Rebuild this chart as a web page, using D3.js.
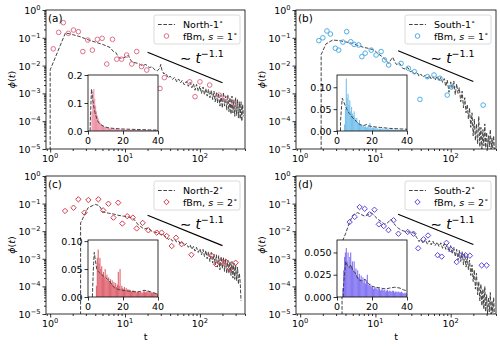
<!DOCTYPE html>
<html><head><meta charset="utf-8">
<script src="https://cdn.jsdelivr.net/npm/d3@7"></script>
<style>body{margin:0;background:#fff}svg{display:block}text{font-family:"DejaVu Sans",sans-serif;fill:#000}</style>
</head><body><svg id="chart" width="500" height="346"></svg>
<script>
// ---------------- DATA ----------------
const xTicks = [1, 10, 100];
const xTickExp = ["0", "1", "2"];
const yTicks = [1, 1e-1, 1e-2, 1e-3, 1e-4, 1e-5];
const yTickExp = ["0", "\u22121", "\u22122", "\u22123", "\u22124", "\u22125"];
const insetXTicks = [0, 20, 40];

// shared t grid for the noisy tail of the empirical curves
const tailT = [36,38,40,43,46,49,52,55,58,62,66,70,74,78,82,86,90,95,100,105,110,115,120,125,130,136,142,148,154,160,166,172,178,185,192,199,206,213,220,228,236,244,252,260,268,276,284,292,300,309,318,327,336,345,354,363,372,381];

// Panel (a) North-1°
const headT_a   = [1.0,1.0,1.6,2.0,2.5,3.2,4.0,5.0,6.3,7.0,7.5,8.2,9.0,10,11,12,13,15,17,19,21,23,25,27,29,30,31,33,34];
const headPhi_a = [1e-6,0.007,0.15,0.13,0.11,0.085,0.07,0.058,0.045,0.032,0.03,0.02,0.018,0.02,0.024,0.015,0.013,0.012,0.01,0.011,0.0085,0.009,0.007,0.0065,0.008,0.011,0.007,0.005,0.0055];
const tailPhi_a = [4.6e-3,3.6e-3,4.2e-3,3.2e-3,3.8e-3,2.6e-3,3.3e-3,2.4e-3,2.9e-3,2.0e-3,2.7e-3,1.8e-3,2.5e-3,1.6e-3,2.2e-3,1.3e-3,2.1e-3,1.2e-3,1.8e-3,1.0e-3,1.7e-3,9e-4,1.5e-3,8e-4,1.4e-3,7e-4,1.3e-3,6e-4,1.2e-3,5e-4,1.1e-3,4.5e-4,1.0e-3,3.5e-4,9e-4,3e-4,1.1e-3,3.5e-4,8e-4,2.5e-4,9e-4,2.2e-4,7e-4,1.8e-4,8e-4,2.0e-4,6e-4,1.5e-4,7e-4,1.6e-4,6e-4,1.3e-4,5e-4,1.2e-4,5e-4,1.0e-4,4e-4,1.5e-4];
const fbmT_a   = [1.1,1.3,1.5,1.75,2.05,2.38,2.73,3.18,3.66,4.27,4.94,5.7,6.8,7.75,9.0,10.5,12.3,14.3,16.6,19.5,29.3,33.5,73,86,100,135,181,216,285];
const fbmPhi_a = [0.04,0.157,0.35,0.145,0.19,0.166,0.032,0.083,0.036,0.088,0.096,0.0114,0.088,0.017,0.017,0.024,0.0114,0.032,0.0092,0.0069,0.0015,0.0037,0.0026,0.00076,0.0026,0.002,0.00087,0.00067,0.00044];

// Panel (b) South-1°
const headT_b   = [1.9,1.9,2.2,2.7,3.2,4.0,5.0,6.0,7.0,8.0,9.0,10,11,12,13,14,15,16,17,18,19,21,23,25,27,29,31,33,34];
const headPhi_b = [1e-6,0.025,0.06,0.083,0.08,0.072,0.062,0.052,0.045,0.042,0.038,0.033,0.026,0.022,0.018,0.015,0.012,0.016,0.02,0.014,0.011,0.012,0.008,0.0075,0.0085,0.006,0.0065,0.005,0.0055];
const tailPhi_b = [5.5e-3,4.2e-3,5.0e-3,3.8e-3,4.6e-3,3.5e-3,4.4e-3,3.3e-3,4.0e-3,3.0e-3,4.2e-3,2.8e-3,3.8e-3,2.5e-3,3.4e-3,1.8e-3,3.0e-3,1.1e-3,2.6e-3,1.5e-3,2.8e-3,9e-4,2.2e-3,1.0e-3,1.6e-3,5e-4,1.2e-3,3e-4,7e-4,2e-4,4e-4,1.2e-4,3e-4,6e-5,2e-4,3e-5,1.2e-4,2e-5,8e-5,1.5e-5,1.5e-4,1.2e-5,6e-5,1.0e-5,5e-5,1.3e-5,8e-5,1.1e-5,4e-5,1.0e-5,3e-5,1.2e-5,5e-5,1.0e-5,2.5e-5,1.1e-5,3e-5,1.0e-5];
const fbmT_b   = [1.77,2.0,2.27,2.52,2.93,3.25,3.7,4.15,4.7,5.2,6.0,6.6,7.3,8.8,10.2,11.9,13.2,15,21.9,27.4,33,39,49,60,72,90,102,270];
const fbmPhi_b = [0.079,0.1,0.176,0.137,0.042,0.036,0.07,0.166,0.072,0.058,0.055,0.021,0.028,0.036,0.024,0.032,0.016,0.0105,0.012,0.008,0.006,0.00061,0.004,0.0046,0.0035,0.00087,0.0017,0.00038];

// Panel (c) North-2°
const headT_c   = [2.55,2.55,3.2,4.0,4.5,5.1,6.0,7.0,8.0,9.5,11,12.5,13.5,15,16,18,20,22,24,26,28,30,32,34];
const headPhi_c = [1e-6,0.02,0.07,0.094,0.085,0.05,0.045,0.042,0.038,0.035,0.033,0.03,0.025,0.017,0.015,0.012,0.013,0.0105,0.0095,0.009,0.0085,0.0075,0.008,0.0065];
const tailPhi_c = [6.0e-3,5.0e-3,5.6e-3,4.4e-3,5.0e-3,4.0e-3,4.4e-3,3.4e-3,4.0e-3,3.0e-3,3.6e-3,2.6e-3,3.2e-3,2.2e-3,2.8e-3,1.9e-3,2.6e-3,1.7e-3,2.3e-3,1.4e-3,2.2e-3,1.2e-3,2.0e-3,1.0e-3,1.8e-3,8e-4,1.7e-3,7e-4,1.5e-3,6e-4,1.4e-3,5e-4,1.3e-3,4e-4,1.2e-3,4.5e-4,1.1e-3,3.5e-4,1.0e-3,3e-4,9e-4,3e-4,8e-4,2.5e-4,8e-4,2e-4,7e-4,1.8e-4,6e-4,1.6e-4,5e-4,1.2e-4,3e-4,1.5e-4,3e-5];
const fbmT_c   = [1.58,2.05,2.38,2.87,3.24,4.4,5.1,6.0,7.0,8.1,9.2,10.7,12.7,14.3,17.2,20.5,26.5,30.8,36,42,48,57,77,143,164,194,222,250,300];
const fbmPhi_c = [0.054,0.071,0.143,0.047,0.135,0.143,0.057,0.099,0.031,0.108,0.019,0.035,0.031,0.0126,0.02,0.0108,0.0089,0.0089,0.0067,0.0029,0.0058,0.0034,0.0014,0.0013,0.00063,0.0008,0.00078,0.00042,0.00072];

// Panel (d) South-2°
const headT_d   = [3.6,3.6,4.0,4.5,5.0,5.8,6.5,7.2,8.0,8.8,9.8,10.8,12,13.2,14.5,16,17,18.5,20,22,24,27,30,33,35];
const headPhi_d = [1e-6,0.004,0.008,0.02,0.038,0.047,0.04,0.035,0.04,0.047,0.035,0.027,0.022,0.018,0.02,0.027,0.022,0.016,0.013,0.011,0.010,0.0095,0.009,0.0085,0.006];
const tailPhi_d = [5.5e-3,4.2e-3,5.2e-3,3.6e-3,5.0e-3,3.4e-3,4.6e-3,3.2e-3,4.4e-3,3.0e-3,4.0e-3,2.8e-3,3.8e-3,2.4e-3,3.5e-3,2.2e-3,3.4e-3,1.8e-3,3.0e-3,1.5e-3,2.6e-3,1.2e-3,2.2e-3,9e-4,2.0e-3,8e-4,1.8e-3,6e-4,1.5e-3,5e-4,1.2e-3,4e-4,9e-4,2.5e-4,6e-4,1.5e-4,4e-4,8e-5,3e-4,5e-5,1.5e-4,3e-5,1.2e-4,2e-5,8e-5,1.5e-5,1.0e-4,1.2e-5,5e-5,1.0e-5,4e-5,1.2e-5,6e-5,1.0e-5,3e-5,1.1e-5,4e-5,1.0e-5];
const fbmT_d   = [4.54,5.3,6.16,7.2,8.35,9.7,11.1,12.9,14.9,17.4,20.2,26.8,32,37,43.5,50,67,76,88,100,120,136,158,180,258,300];
const fbmPhi_d = [0.0215,0.033,0.075,0.065,0.041,0.06,0.0177,0.0154,0.0109,0.025,0.0081,0.0094,0.0081,0.0024,0.0051,0.007,0.00135,0.0012,0.0038,0.0022,0.00076,0.0013,0.00135,0.0013,0.00058,0.00058];

// power-law guide ~ t^-1.1
const powT = [20, 200];
const powPhi_a = [0.030, 0.0024];
const powPhi_b = [0.034, 0.0027];
const powPhi_c = [0.038, 0.0030];
const powPhi_d = [0.041, 0.0033];

// inset histograms (bins of width 0.5 from t=0 to 40)
const binWidth = 0.5;
const insetBars_a = [0,0,0,0,0.07,0.14,0.15,0.115,0.09,0.07,0.055,0.045,0.036,0.03,0.026,0.022,0.019,0.017,0.015,0.013,0.012,0.011,0.010,0.011,0.009,0.008,0.009,0.008,0.007,0.008,0.007,0.006,0.007,0.006,0.006,0.005,0.006,0.005,0.005,0.006,0.005,0.004,0.005,0.004,0.004,0.005,0.004,0.004,0.004,0.003,0.004,0.003,0.003,0.004,0.003,0.003,0.003,0.003,0.004,0.003,0.003,0.003,0.003,0.002,0.003,0.003,0.002,0.003,0.003,0.002,0.002,0.002,0.003,0.002,0.002,0.002,0.002,0.002,0.002,0.003,0.002,0.002];
const insetBars_b = [0,0,0,0,0,0,0,0,0.015,0.05,0.12,0.075,0.085,0.06,0.07,0.045,0.055,0.04,0.035,0.045,0.03,0.025,0.03,0.02,0.018,0.025,0.015,0.012,0.014,0.01,0.012,0.009,0.011,0.008,0.009,0.012,0.007,0.018,0.01,0.006,0.008,0.007,0.006,0.009,0.005,0.007,0.006,0.004,0.005,0.006,0.004,0.005,0.006,0.003,0.004,0.005,0.003,0.004,0.005,0.003,0.003,0.004,0.004,0.003,0.003,0.002,0.004,0.003,0.002,0.003,0.003,0.002,0.002,0.003,0.003,0.002,0.002,0.003,0.002,0.002,0.003,0.002,0.002,0.002];
const insetBars_c = [0,0,0,0,0,0,0,0,0,0.02,0.07,0.085,0.06,0.07,0.05,0.055,0.04,0.045,0.035,0.05,0.03,0.04,0.03,0.035,0.028,0.032,0.025,0.03,0.022,0.027,0.02,0.025,0.018,0.022,0.045,0.02,0.05,0.015,0.02,0.016,0.014,0.018,0.013,0.016,0.012,0.014,0.011,0.013,0.012,0.01,0.01,0.012,0.009,0.011,0.01,0.008,0.009,0.01,0.008,0.009,0.009,0.007,0.008,0.01,0.01,0.008,0.009,0.011,0.008,0.01,0.009,0.007,0.008,0.007,0.007,0.008,0.006,0.007,0.007,0.005,0.005,0.006,0.005,0.004];
const insetBars_d = [0,0,0,0,0,0,0.01,0.03,0.045,0.05,0.055,0.04,0.05,0.035,0.045,0.05,0.035,0.04,0.03,0.04,0.028,0.032,0.025,0.03,0.022,0.026,0.02,0.024,0.018,0.022,0.016,0.02,0.015,0.018,0.025,0.014,0.013,0.015,0.012,0.011,0.012,0.009,0.01,0.011,0.009,0.01,0.008,0.01,0.009,0.007,0.008,0.009,0.007,0.008,0.008,0.006,0.007,0.008,0.006,0.007,0.007,0.006,0.006,0.007,0.007,0.005,0.006,0.006,0.005,0.006,0.006,0.005,0.005,0.006,0.005,0.004,0.004,0.005,0.004,0.004];
const insetLineT_a = [1.2,1.4,2,2.5,3,3.5,4,5,6,7,8,10,12,15,20,25,30,35,40];
const insetLinePhi_a = [0,0.05,0.15,0.12,0.1,0.08,0.065,0.045,0.03,0.025,0.02,0.014,0.011,0.009,0.007,0.006,0.005,0.004,0.003];
const insetLineT_b = [2,2,2.5,3,3.5,4,5,6,7,8,9,10,11,12,13,15,17,18,20,25,30,35,40];
const insetLinePhi_b = [0,0.02,0.05,0.075,0.07,0.065,0.055,0.047,0.04,0.035,0.03,0.027,0.022,0.018,0.015,0.012,0.015,0.012,0.01,0.008,0.006,0.005,0.004];
const insetLineT_c = [2.5,2.7,3.2,3.6,4,5,6,7,8,9,10,11,12,13,14,15,16,18,20,22,25,28,30,32,34,36,38,40];
const insetLinePhi_c = [0,0.02,0.06,0.08,0.07,0.05,0.045,0.042,0.04,0.037,0.035,0.032,0.03,0.025,0.02,0.017,0.015,0.013,0.012,0.011,0.01,0.009,0.01,0.012,0.011,0.009,0.007,0.005];
const insetLineT_d = [3.6,3.8,4.5,5,6,7,8,9,10,11,12,14,16,18,20,22,25,28,30,33,36,38,40];
const insetLinePhi_d = [0,0.015,0.03,0.04,0.035,0.033,0.036,0.03,0.028,0.025,0.02,0.018,0.02,0.015,0.012,0.011,0.01,0.009,0.01,0.011,0.01,0.008,0.007];
const insetYTicks_a = [0, 0.1, 0.2],      insetYLabels_a = ["0.0","0.1","0.2"];
const insetYTicks_b = [0, 0.05, 0.10],    insetYLabels_b = ["0.00","0.05","0.10"];
const insetYTicks_c = [0, 0.05, 0.10],    insetYLabels_c = ["0.00","0.05","0.10"];
const insetYTicks_d = [0, 0.025, 0.050],  insetYLabels_d = ["0.000","0.025","0.050"];
const insetYMax = [0.2, 0.128, 0.102, 0.064];

const seriesNames = ["North-1", "South-1", "North-2", "South-2"];
const fbmScale = ["1", "1", "2", "2"];
const panelLetters = ["(a)", "(b)", "(c)", "(d)"];

// ---------------- DRAWING ----------------
const svg = d3.select("#chart");
const defs = svg.append("defs");
const LINE = "#444";
const FS = 9.5;

const panels = [
  {k:"a", l:46,  r:245, t:10,  b:149, it:75,  ib:131, il:88,  ir:158, headT:headT_a, headPhi:headPhi_a, tailPhi:tailPhi_a, fT:fbmT_a, fP:fbmPhi_a, pow:powPhi_a, bars:insetBars_a, lt:insetLineT_a, lp:insetLinePhi_a, yt:insetYTicks_a, yl:insetYLabels_a, mk:"#E0708A", fill:"#EE93A8", sym:"circle"},
  {k:"b", l:296, r:496, t:10,  b:149, it:75,  ib:131, il:337, ir:407, headT:headT_b, headPhi:headPhi_b, tailPhi:tailPhi_b, fT:fbmT_b, fP:fbmPhi_b, pow:powPhi_b, bars:insetBars_b, lt:insetLineT_b, lp:insetLinePhi_b, yt:insetYTicks_b, yl:insetYLabels_b, mk:"#4FAEE6", fill:"#79C2EE", sym:"circle"},
  {k:"c", l:46,  r:245, t:176, b:314, it:240, ib:297, il:88,  ir:158, headT:headT_c, headPhi:headPhi_c, tailPhi:tailPhi_c, fT:fbmT_c, fP:fbmPhi_c, pow:powPhi_c, bars:insetBars_c, lt:insetLineT_c, lp:insetLinePhi_c, yt:insetYTicks_c, yl:insetYLabels_c, mk:"#D93A4A", fill:"#E06874", sym:"diamond"},
  {k:"d", l:296, r:496, t:176, b:314, it:240, ib:297, il:337, ir:407, headT:headT_d, headPhi:headPhi_d, tailPhi:tailPhi_d, fT:fbmT_d, fP:fbmPhi_d, pow:powPhi_d, bars:insetBars_d, lt:insetLineT_d, lp:insetLinePhi_d, yt:insetYTicks_d, yl:insetYLabels_d, mk:"#5A48E0", fill:"#8677F2", sym:"diamond"}
];

function marker(sel, sym, color) {
  if (sym === "circle") {
    sel.append("circle").attr("r", 2.3).attr("fill", "none").attr("stroke", color).attr("stroke-width", 1);
  } else {
    const r = 2.7;
    sel.append("path").attr("d", `M0,${-r}L${r},0L0,${r}L${-r},0Z`).attr("fill", "none").attr("stroke", color).attr("stroke-width", 1);
  }
}

function powLabel(txt, base, exp) {
  txt.append("tspan").text(base);
  txt.append("tspan").attr("font-size", 6.7).attr("dy", -4).text(exp);
}

panels.forEach((p, i) => {
  const g = svg.append("g");
  const x = d3.scaleLog().domain([0.88, 400]).range([p.l, p.r]);
  const y = d3.scaleLog().domain([1e-5, 1]).range([p.b, p.t]);

  defs.append("clipPath").attr("id", "clip" + p.k).append("rect")
    .attr("x", p.l).attr("y", p.t).attr("width", p.r - p.l).attr("height", p.b - p.t);
  const plot = g.append("g").attr("clip-path", `url(#clip${p.k})`);

  // empirical curve
  const T = p.headT.concat(tailT.slice(0, p.tailPhi.length));
  const P = p.headPhi.concat(p.tailPhi);
  const line = d3.line().x(d => x(d[0])).y(d => y(d[1]));
  plot.append("path").datum(d3.zip(T, P)).attr("d", line)
    .attr("fill", "none").attr("stroke", LINE).attr("stroke-width", 1)
    .attr("stroke-dasharray", "3.7,1.6");

  // fBm markers
  d3.zip(p.fT, p.fP).forEach(d => {
    const m = plot.append("g").attr("transform", `translate(${x(d[0])},${y(d[1])})`);
    marker(m, p.sym, p.mk);
  });

  // power-law guide
  plot.append("path").datum(d3.zip(powT, p.pow)).attr("d", line)
    .attr("fill", "none").attr("stroke", "#000").attr("stroke-width", 1.1);
  const pt = g.append("text").attr("x", x(54)).attr("y", y(0.0125)).attr("font-size", 13.5);
  pt.append("tspan").text("\u223C ");
  pt.append("tspan").attr("font-style", "italic").text("t");
  pt.append("tspan").attr("font-size", 9.5).attr("dy", -6).text("\u22121.1");

  // axes
  const minorX = [];
  [0.1, 1, 10, 100].forEach(dec => { for (let k = 2; k <= 9; k++) { const v = dec * k; if (v >= 0.88 && v <= 400) minorX.push(v); } });
  const minorY = [];
  [1e-5, 1e-4, 1e-3, 1e-2, 1e-1].forEach(dec => { for (let k = 2; k <= 9; k++) minorY.push(dec * k); });

  const ax = g.append("g").attr("transform", `translate(0,${p.b})`);
  ax.call(d3.axisBottom(x).tickValues(xTicks).tickSize(3.5).tickFormat(""));
  ax.append("g").call(d3.axisBottom(x).tickValues(minorX).tickSize(2).tickFormat(""));
  const ay = g.append("g").attr("transform", `translate(${p.l},0)`);
  ay.call(d3.axisLeft(y).tickValues(yTicks).tickSize(3.5).tickFormat(""));
  ay.append("g").call(d3.axisLeft(y).tickValues(minorY).tickSize(2).tickFormat(""));
  g.selectAll(".domain").remove();
  g.selectAll(".tick line").attr("stroke", "#000").attr("stroke-width", 0.8);

  xTicks.forEach((v, j) => {
    const t = g.append("text").attr("x", x(v)).attr("y", p.b + 12.7).attr("text-anchor", "middle").attr("font-size", FS);
    powLabel(t, "10", xTickExp[j]);
  });
  yTicks.forEach((v, j) => {
    const t = g.append("text").attr("x", p.l - 5.5).attr("y", y(v) + 4).attr("text-anchor", "end").attr("font-size", FS);
    powLabel(t, "10", yTickExp[j]);
  });

  // frame
  g.append("rect").attr("x", p.l).attr("y", p.t).attr("width", p.r - p.l).attr("height", p.b - p.t)
    .attr("fill", "none").attr("stroke", "#000").attr("stroke-width", 0.8);

  // y label
  const yl = g.append("text").attr("transform", `translate(${p.l - 31},${(p.t + p.b) / 2}) rotate(-90)`)
    .attr("text-anchor", "middle").attr("font-size", FS);
  yl.append("tspan").attr("font-style", "italic").text("\u03D5");
  yl.append("tspan").text("(");
  yl.append("tspan").attr("font-style", "italic").text("t");
  yl.append("tspan").text(")");
  if (i >= 2) {
    g.append("text").attr("x", (p.l + p.r) / 2).attr("y", 340).attr("text-anchor", "middle").attr("font-size", FS).text("t");
  }

  // panel letter
  g.append("text").attr("x", p.l + 2).attr("y", p.t + 12).attr("font-size", 10.5).text(panelLetters[i]);

  // legend
  const lw = 86, lh = 29, lx = p.r - 5 - lw, ly = p.t + 5;
  const lg = g.append("g");
  lg.append("rect").attr("x", lx).attr("y", ly).attr("width", lw).attr("height", lh).attr("rx", 2)
    .attr("fill", "#fff").attr("fill-opacity", 0.8).attr("stroke", "#d0d0d0").attr("stroke-width", 0.8);
  lg.append("line").attr("x1", lx + 4).attr("x2", lx + 21).attr("y1", ly + 9.5).attr("y2", ly + 9.5)
    .attr("stroke", LINE).attr("stroke-width", 1).attr("stroke-dasharray", "3.7,1.6");
  const t1 = lg.append("text").attr("x", lx + 29).attr("y", ly + 13).attr("font-size", FS);
  t1.append("tspan").text(seriesNames[i]);
  t1.append("tspan").attr("font-size", 6.7).attr("dy", -4).text("\u2218");
  marker(lg.append("g").attr("transform", `translate(${lx + 12.5},${ly + 21})`), p.sym, p.mk);
  const t2 = lg.append("text").attr("x", lx + 29).attr("y", ly + 24.5).attr("font-size", FS);
  t2.append("tspan").text("fBm, ");
  t2.append("tspan").attr("font-style", "italic").text("s");
  t2.append("tspan").text(" = " + fbmScale[i]);
  t2.append("tspan").attr("font-size", 6.7).attr("dy", -4).text("\u2218");

  // inset
  const ix = d3.scaleLinear().domain([0, 40]).range([p.il, p.ir]);
  const iy = d3.scaleLinear().domain([0, insetYMax[i]]).range([p.ib, p.it]);
  const ig = g.append("g");
  ig.append("rect").attr("x", p.il).attr("y", p.it).attr("width", p.ir - p.il).attr("height", p.ib - p.it).attr("fill", "#fff");
  defs.append("clipPath").attr("id", "iclip" + p.k).append("rect")
    .attr("x", p.il).attr("y", p.it).attr("width", p.ir - p.il).attr("height", p.ib - p.it);
  const ip = ig.append("g").attr("clip-path", `url(#iclip${p.k})`);
  ip.selectAll("rect.bar").data(p.bars).join("rect").attr("class", "bar")
    .attr("x", (d, j) => ix(j * binWidth)).attr("width", ix(binWidth) - ix(0) + 0.25)
    .attr("y", d => iy(d)).attr("height", d => iy(0) - iy(d)).attr("fill", p.fill);
  ip.append("path").datum(d3.zip(p.lt, p.lp))
    .attr("d", d3.line().x(d => ix(d[0])).y(d => iy(d[1])))
    .attr("fill", "none").attr("stroke", LINE).attr("stroke-width", 1).attr("stroke-dasharray", "3.7,1.6");
  ig.append("g").attr("transform", `translate(0,${p.ib})`).call(d3.axisBottom(ix).tickValues(insetXTicks).tickSize(3.5).tickFormat(""));
  ig.append("g").attr("transform", `translate(${p.il},0)`).call(d3.axisLeft(iy).tickValues(p.yt).tickSize(3.5).tickFormat(""));
  ig.selectAll(".domain").remove();
  ig.selectAll(".tick line").attr("stroke", "#000").attr("stroke-width", 0.8);
  insetXTicks.forEach(v => {
    ig.append("text").attr("x", ix(v)).attr("y", p.ib + 12.5).attr("text-anchor", "middle").attr("font-size", FS).text(v);
  });
  p.yt.forEach((v, j) => {
    ig.append("text").attr("x", p.il - 5.5).attr("y", iy(v) + 3.5).attr("text-anchor", "end").attr("font-size", FS).text(p.yl[j]);
  });
  ig.append("rect").attr("x", p.il).attr("y", p.it).attr("width", p.ir - p.il).attr("height", p.ib - p.it)
    .attr("fill", "none").attr("stroke", "#000").attr("stroke-width", 0.8);
});
</script>
</body></html>
